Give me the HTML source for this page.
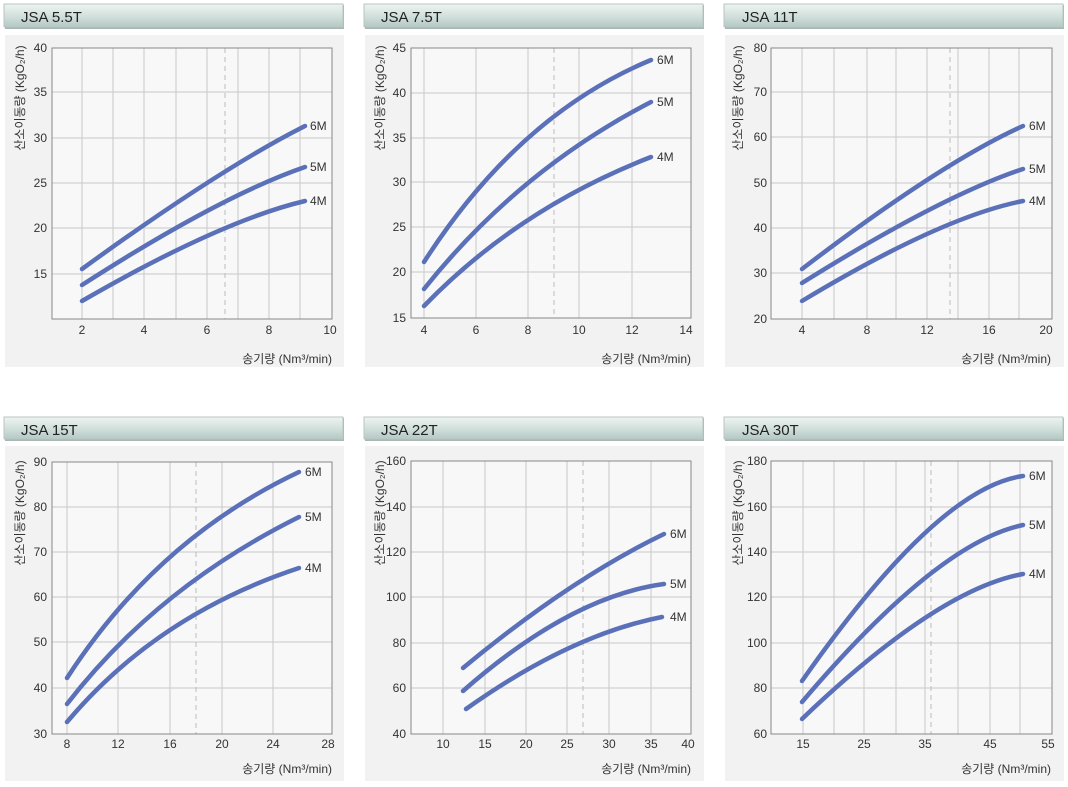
<!DOCTYPE html>
<html><head><meta charset="utf-8"><style>
html,body{margin:0;padding:0;background:#fff;}
svg{display:block;font-family:"Liberation Sans","Noto Sans CJK KR",sans-serif;}
.hd{font-size:15px;fill:#222;}
.tk{font-size:12px;fill:#333;}
.tl{font-size:12px;fill:#333;}
.g{stroke:#c9c9c9;stroke-width:1;}
.d{stroke:#bbb;stroke-width:1;stroke-dasharray:5,4;}
.c{fill:none;stroke:#5a70b9;stroke-width:4.5;stroke-linecap:round;}
.lb{font-size:12px;fill:#333;}
</style></head><body>
<svg width="1068" height="787" viewBox="0 0 1068 787" xmlns="http://www.w3.org/2000/svg">
<defs>
<linearGradient id="hg" x1="0" y1="0" x2="0" y2="1">
<stop offset="0" stop-color="#eef4f2"/><stop offset="0.5" stop-color="#d3e1dd"/><stop offset="1" stop-color="#b5c9c4"/>
</linearGradient>
<g id="frame1">
<rect x="5" y="5" width="339" height="24" fill="#a9b7b3"/>
<rect x="4" y="4" width="339" height="23" fill="url(#hg)" stroke="#b8c6c2" stroke-width="1"/>
<rect x="5" y="35" width="339" height="332" fill="#f2f2f2"/>
</g>
<g id="frame2">
<rect x="5" y="8" width="339" height="23" fill="#a9b7b3"/>
<rect x="4" y="7" width="339" height="22" fill="url(#hg)" stroke="#b8c6c2" stroke-width="1"/>
<rect x="5" y="36" width="339" height="335" fill="#f2f2f2"/>
</g>
</defs>

<!-- Panel 1 -->
<g transform="translate(0,0)">
<use href="#frame1"/>
<text class="hd" x="21" y="22">JSA 5.5T</text>
<rect x="52" y="48" width="280" height="271" fill="#f8f8f8"/>
<g class="g"><line x1="82" y1="48" x2="82" y2="319"/><line x1="113" y1="48" x2="113" y2="319"/><line x1="144" y1="48" x2="144" y2="319"/><line x1="176" y1="48" x2="176" y2="319"/><line x1="207" y1="48" x2="207" y2="319"/><line x1="238" y1="48" x2="238" y2="319"/><line x1="269" y1="48" x2="269" y2="319"/><line x1="300" y1="48" x2="300" y2="319"/>
<line x1="52" y1="274" x2="332" y2="274"/><line x1="52" y1="228" x2="332" y2="228"/><line x1="52" y1="183" x2="332" y2="183"/><line x1="52" y1="138" x2="332" y2="138"/><line x1="52" y1="92" x2="332" y2="92"/></g>
<line class="d" x1="225" y1="48" x2="225" y2="319"/>
<rect x="52" y="48" width="280" height="271" fill="none" stroke="#888"/>
<g class="tk" text-anchor="end"><text x="47" y="278">15</text><text x="47" y="232">20</text><text x="47" y="187">25</text><text x="47" y="142">30</text><text x="47" y="96">35</text><text x="47" y="52">40</text></g>
<g class="tk" text-anchor="middle"><text x="82" y="334">2</text><text x="144" y="334">4</text><text x="207" y="334">6</text><text x="269" y="334">8</text><text x="330" y="334">10</text></g>
<text class="tl" x="332" y="363" text-anchor="end">송기량 (Nm³/min)</text>
<text class="tl" transform="translate(24,98) rotate(-90)" text-anchor="middle">산소이동량 (KgO₂/h)</text>
<path class="c" d="M82,269 Q220.5,168.5 305,126"/><path class="c" d="M82,285 Q220.5,196 305,167"/><path class="c" d="M82,301 Q220.5,221 305,201"/>
<g class="lb"><text x="310" y="130">6M</text><text x="310" y="171">5M</text><text x="310" y="205">4M</text></g>
</g>

<!-- Panel 2 -->
<g transform="translate(360,0)">
<use href="#frame1"/>
<text class="hd" x="21" y="22">JSA 7.5T</text>
<rect x="51" y="48" width="280" height="270" fill="#f8f8f8"/>
<g class="g"><line x1="64" y1="48" x2="64" y2="318"/><line x1="116" y1="48" x2="116" y2="318"/><line x1="168" y1="48" x2="168" y2="318"/><line x1="219" y1="48" x2="219" y2="318"/><line x1="272" y1="48" x2="272" y2="318"/>
<line x1="51" y1="272" x2="331" y2="272"/><line x1="51" y1="227" x2="331" y2="227"/><line x1="51" y1="182" x2="331" y2="182"/><line x1="51" y1="138" x2="331" y2="138"/><line x1="51" y1="93" x2="331" y2="93"/></g>
<line class="d" x1="194" y1="48" x2="194" y2="318"/>
<rect x="51" y="48" width="280" height="270" fill="none" stroke="#888"/>
<g class="tk" text-anchor="end"><text x="46" y="322">15</text><text x="46" y="276">20</text><text x="46" y="231">25</text><text x="46" y="186">30</text><text x="46" y="142">35</text><text x="46" y="97">40</text><text x="46" y="52">45</text></g>
<g class="tk" text-anchor="middle"><text x="64" y="334">4</text><text x="116" y="334">6</text><text x="168" y="334">8</text><text x="219" y="334">10</text><text x="272" y="334">12</text><text x="326" y="334">14</text></g>
<text class="tl" x="331" y="363" text-anchor="end">송기량 (Nm³/min)</text>
<text class="tl" transform="translate(24,98) rotate(-90)" text-anchor="middle">산소이동량 (KgO₂/h)</text>
<path class="c" d="M64,262 Q158.5,115 291,60"/><path class="c" d="M64,289 Q158.5,170.5 291,102"/><path class="c" d="M64,306 Q158.5,208.5 291,157"/>
<g class="lb"><text x="297" y="64">6M</text><text x="297" y="106">5M</text><text x="297" y="161">4M</text></g>
</g>

<!-- Panel 3 -->
<g transform="translate(718,0)">
<use href="#frame1" transform="translate(2,0)"/>
<text class="hd" x="24" y="22">JSA 11T</text>
<rect x="53" y="48" width="281" height="271" fill="#f8f8f8"/>
<g class="g"><line x1="84" y1="48" x2="84" y2="319"/><line x1="116" y1="48" x2="116" y2="319"/><line x1="149" y1="48" x2="149" y2="319"/><line x1="178" y1="48" x2="178" y2="319"/><line x1="209" y1="48" x2="209" y2="319"/><line x1="240" y1="48" x2="240" y2="319"/><line x1="271" y1="48" x2="271" y2="319"/><line x1="301" y1="48" x2="301" y2="319"/>
<line x1="53" y1="273" x2="334" y2="273"/><line x1="53" y1="228" x2="334" y2="228"/><line x1="53" y1="183" x2="334" y2="183"/><line x1="53" y1="137" x2="334" y2="137"/><line x1="53" y1="92" x2="334" y2="92"/></g>
<line class="d" x1="232" y1="48" x2="232" y2="319"/>
<rect x="53" y="48" width="281" height="271" fill="none" stroke="#888"/>
<g class="tk" text-anchor="end"><text x="49" y="323">20</text><text x="49" y="277">30</text><text x="49" y="232">40</text><text x="49" y="187">50</text><text x="49" y="141">60</text><text x="49" y="96">70</text><text x="49" y="52">80</text></g>
<g class="tk" text-anchor="middle"><text x="84" y="334">4</text><text x="149" y="334">8</text><text x="209" y="334">12</text><text x="271" y="334">16</text><text x="328" y="334">20</text></g>
<text class="tl" x="333" y="363" text-anchor="end">송기량 (Nm³/min)</text>
<text class="tl" transform="translate(24,98) rotate(-90)" text-anchor="middle">산소이동량 (KgO₂/h)</text>
<path class="c" d="M84,269 Q223.5,162.5 305,126"/><path class="c" d="M84,283 Q223.5,196 305,169"/><path class="c" d="M84,301 Q223.5,217 305,201"/>
<g class="lb"><text x="311" y="130">6M</text><text x="311" y="173">5M</text><text x="311" y="205">4M</text></g>
</g>

<!-- Panel 4 -->
<g transform="translate(0,410)">
<use href="#frame2"/>
<text class="hd" x="21" y="25">JSA 15T</text>
<rect x="52" y="52" width="280" height="272" fill="#f8f8f8"/>
<g class="g"><line x1="67" y1="52" x2="67" y2="324"/><line x1="118" y1="52" x2="118" y2="324"/><line x1="170" y1="52" x2="170" y2="324"/><line x1="222" y1="52" x2="222" y2="324"/><line x1="273" y1="52" x2="273" y2="324"/>
<line x1="52" y1="278" x2="332" y2="278"/><line x1="52" y1="232" x2="332" y2="232"/><line x1="52" y1="187" x2="332" y2="187"/><line x1="52" y1="142" x2="332" y2="142"/><line x1="52" y1="97" x2="332" y2="97"/></g>
<line class="d" x1="196" y1="52" x2="196" y2="324"/>
<rect x="52" y="52" width="280" height="272" fill="none" stroke="#888"/>
<g class="tk" text-anchor="end"><text x="47" y="328">30</text><text x="47" y="282">40</text><text x="47" y="236">50</text><text x="47" y="191">60</text><text x="47" y="146">70</text><text x="47" y="101">80</text><text x="47" y="56">90</text></g>
<g class="tk" text-anchor="middle"><text x="67" y="338">8</text><text x="118" y="338">12</text><text x="170" y="338">16</text><text x="222" y="338">20</text><text x="273" y="338">24</text><text x="328" y="338">28</text></g>
<text class="tl" x="332" y="363" text-anchor="end">송기량 (Nm³/min)</text>
<text class="tl" transform="translate(24,103) rotate(-90)" text-anchor="middle">산소이동량 (KgO₂/h)</text>
<path class="c" d="M67,268 Q157,129 299,62"/><path class="c" d="M67,294 Q157,177.5 299,107"/><path class="c" d="M67,312 Q157,205 299,158"/>
<g class="lb"><text x="305" y="66">6M</text><text x="305" y="111">5M</text><text x="305" y="162">4M</text></g>
</g>

<!-- Panel 5 -->
<g transform="translate(360,410)">
<use href="#frame2"/>
<text class="hd" x="21" y="25">JSA 22T</text>
<rect x="51" y="51" width="280" height="273" fill="#f8f8f8"/>
<g class="g"><line x1="83" y1="51" x2="83" y2="324"/><line x1="125" y1="51" x2="125" y2="324"/><line x1="166" y1="51" x2="166" y2="324"/><line x1="207" y1="51" x2="207" y2="324"/><line x1="249" y1="51" x2="249" y2="324"/><line x1="291" y1="51" x2="291" y2="324"/>
<line x1="51" y1="278" x2="331" y2="278"/><line x1="51" y1="233" x2="331" y2="233"/><line x1="51" y1="187" x2="331" y2="187"/><line x1="51" y1="142" x2="331" y2="142"/><line x1="51" y1="97" x2="331" y2="97"/></g>
<line class="d" x1="223" y1="51" x2="223" y2="324"/>
<rect x="51" y="51" width="280" height="273" fill="none" stroke="#888"/>
<g class="tk" text-anchor="end"><text x="46" y="328">40</text><text x="46" y="282">60</text><text x="46" y="237">80</text><text x="46" y="191">100</text><text x="46" y="146">120</text><text x="46" y="101">140</text><text x="46" y="55">160</text></g>
<g class="tk" text-anchor="middle"><text x="83" y="338">10</text><text x="125" y="338">15</text><text x="166" y="338">20</text><text x="207" y="338">25</text><text x="249" y="338">30</text><text x="291" y="338">35</text><text x="328" y="338">40</text></g>
<text class="tl" x="331" y="363" text-anchor="end">송기량 (Nm³/min)</text>
<text class="tl" transform="translate(24,103) rotate(-90)" text-anchor="middle">산소이동량 (KgO₂/h)</text>
<path class="c" d="M103,258 Q210.5,169 304,124"/><path class="c" d="M103,281 Q210.5,186.5 304,174"/><path class="c" d="M106,299 Q210,225 302,207"/>
<g class="lb"><text x="310" y="128">6M</text><text x="310" y="178">5M</text><text x="310" y="211">4M</text></g>
</g>

<!-- Panel 6 -->
<g transform="translate(718,410)">
<use href="#frame2" transform="translate(2,0)"/>
<text class="hd" x="24" y="25">JSA 30T</text>
<rect x="53" y="51" width="281" height="273" fill="#f8f8f8"/>
<g class="g"><line x1="85" y1="51" x2="85" y2="324"/><line x1="116" y1="51" x2="116" y2="324"/><line x1="146" y1="51" x2="146" y2="324"/><line x1="178" y1="51" x2="178" y2="324"/><line x1="207" y1="51" x2="207" y2="324"/><line x1="240" y1="51" x2="240" y2="324"/><line x1="272" y1="51" x2="272" y2="324"/><line x1="302" y1="51" x2="302" y2="324"/>
<line x1="53" y1="278" x2="334" y2="278"/><line x1="53" y1="233" x2="334" y2="233"/><line x1="53" y1="187" x2="334" y2="187"/><line x1="53" y1="142" x2="334" y2="142"/><line x1="53" y1="97" x2="334" y2="97"/></g>
<line class="d" x1="213" y1="51" x2="213" y2="324"/>
<rect x="53" y="51" width="281" height="273" fill="none" stroke="#888"/>
<g class="tk" text-anchor="end"><text x="49" y="328">60</text><text x="49" y="282">80</text><text x="49" y="237">100</text><text x="49" y="191">120</text><text x="49" y="146">140</text><text x="49" y="101">160</text><text x="49" y="55">180</text></g>
<g class="tk" text-anchor="middle"><text x="85" y="338">15</text><text x="146" y="338">25</text><text x="207" y="338">35</text><text x="272" y="338">45</text><text x="330" y="338">55</text></g>
<text class="tl" x="333" y="363" text-anchor="end">송기량 (Nm³/min)</text>
<text class="tl" transform="translate(24,103) rotate(-90)" text-anchor="middle">산소이동량 (KgO₂/h)</text>
<path class="c" d="M84,271 Q219.5,77.5 305,66"/><path class="c" d="M84,292 Q219.5,132.5 305,115"/><path class="c" d="M84,309 Q219.5,179.5 305,164"/>
<g class="lb"><text x="311" y="70">6M</text><text x="311" y="119">5M</text><text x="311" y="168">4M</text></g>
</g>
</svg>
</body></html>
